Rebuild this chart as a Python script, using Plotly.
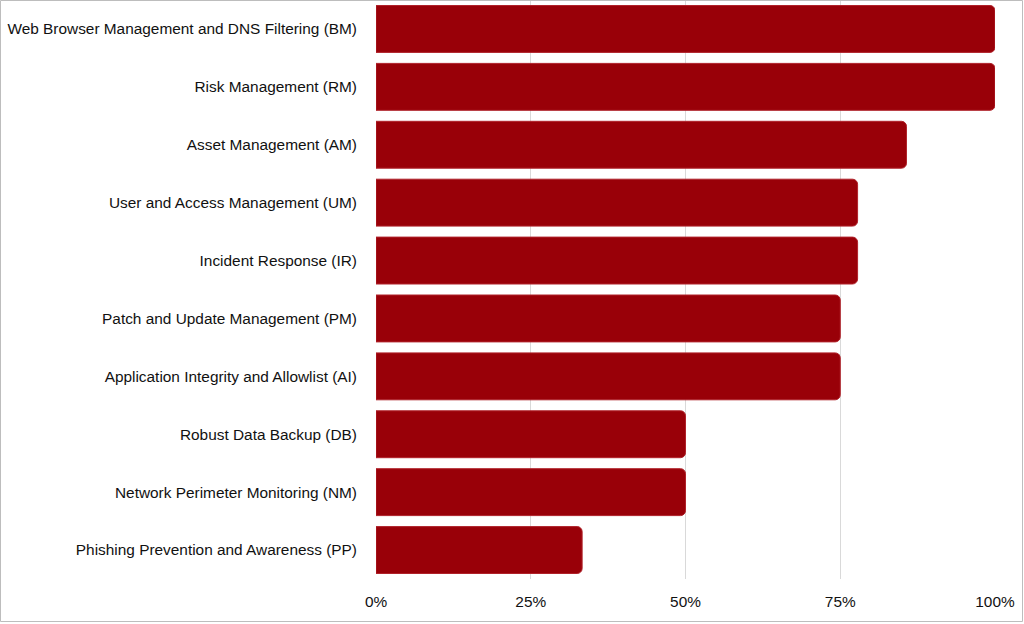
import plotly.graph_objects as go

categories = [
    "Web Browser Management and DNS Filtering (BM)",
    "Risk Management (RM)",
    "Asset Management (AM)",
    "User and Access Management (UM)",
    "Incident Response (IR)",
    "Patch and Update Management (PM)",
    "Application Integrity and Allowlist (AI)",
    "Robust Data Backup (DB)",
    "Network Perimeter Monitoring (NM)",
    "Phishing Prevention and Awareness (PP)",
]
values = [1.0, 1.0, 0.857, 0.778, 0.778, 0.75, 0.75, 0.5, 0.5, 0.333]
tick_vals = [0, 0.25, 0.5, 0.75, 1.0]
tick_text = ["0%", "25%", "50%", "75%", "100%"]

W, H = 1024, 624
L, R, T, B = 376, 29, 0, 45
pw = W - L - R
ph = H - T - B

fig = go.Figure(go.Bar(
    x=values,
    y=categories,
    orientation="h",
    marker=dict(color="#990008", line=dict(color="#b0222a", width=1), cornerradius=5),
    hoverinfo="x+y",
))

fig.update_layout(
    width=W, height=H,
    margin=dict(l=L, r=R, t=T, b=B, pad=0),
    paper_bgcolor="white",
    plot_bgcolor="white",
    bargap=0.19,
    showlegend=False,
    font=dict(family="Liberation Sans, Arial, sans-serif", size=15.4, color="#111111"),
    xaxis=dict(
        range=[0, 1.0],
        tickvals=tick_vals,
        ticktext=tick_text,
        showgrid=True,
        gridcolor="#d9d9d9",
        gridwidth=1,
        zeroline=False,
        showline=False,
        ticks="",
        ticklabelstandoff=12,
        fixedrange=True,
    ),
    yaxis=dict(
        categoryorder="array",
        categoryarray=categories[::-1],
        showgrid=False,
        zeroline=False,
        showline=False,
        ticks="",
        ticklabelstandoff=18,
        fixedrange=True,
    ),
    shapes=[
        dict(
            type="rect",
            xref="paper", yref="paper",
            x0=(0.5 - L) / pw, x1=(W - 1.5 - L) / pw,
            y0=-(621.5 - (H - B)) / ph, y1=1 + (T - 0.5) / ph,
            line=dict(color="#bdbdbd", width=1),
            fillcolor="rgba(0,0,0,0)",
            layer="above",
        )
    ],
)

fig.write_html(
    "out.html",
    config={"displayModeBar": False},
    post_script="document.body.style.margin='0';document.body.style.overflow='hidden';",
)
